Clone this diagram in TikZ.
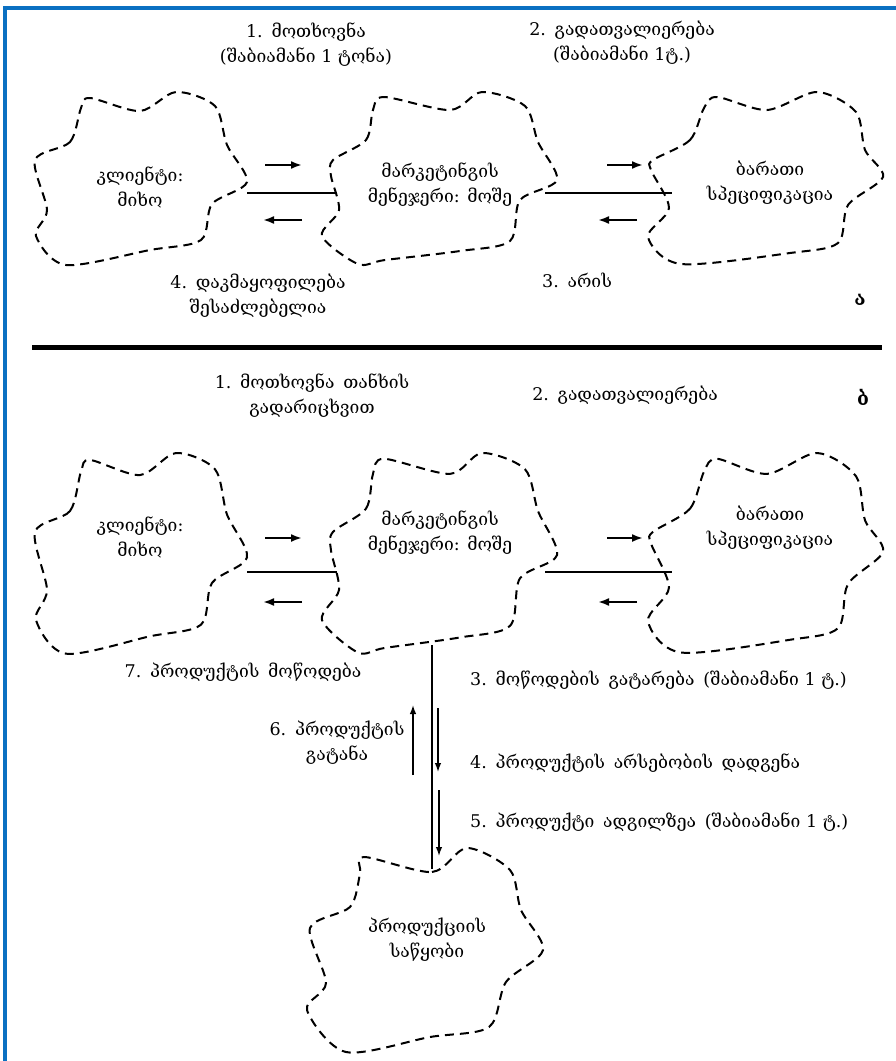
\documentclass[tikz,border=0pt]{standalone}
\usepackage{fontspec}
\setmainfont{DejaVu Serif}
\usetikzlibrary{arrows.meta}
\definecolor{frameblue}{RGB}{10,112,194}

% outlines of the dashed "cloud" regions (pixel-like units, y downwards)
\newcommand\clientshape{plot[smooth cycle, tension=0.5] coordinates {
 (35,160) (70,142) (81,108) (90,98) (140,111) (176,92) (215,106)
 (227,145) (247,182) (212,204) (201,240) (150,250) (66,265) (36,236)
 (47,210)}}
\newcommand\managershape{plot[smooth cycle, tension=0.5] coordinates {
 (333,160) (366,140) (373,110) (384,97) (450,110) (482,92) (525,106)
 (538,142) (557,180) (520,200) (510,241) (460,251) (385,260) (358,264)
 (322,236) (339,210) (331,176)}}
\newcommand\cardshape{plot[smooth cycle, tension=0.5] coordinates {
 (653,160) (690,140) (704,108) (717,97) (767,110) (817,92) (856,112)
 (865,150) (883,177) (848,205) (838,243) (790,253) (681,264) (648,237)
 (669,208) (651,170)}}
\newcommand\storeshape{plot[smooth cycle, tension=0.5] coordinates {
 (364,857) (432,872) (467,848) (510,870) (521,910) (543,950) (506,982)
 (489,1027) (430,1037) (346,1052) (307,1010) (326,983) (310,928)
 (350,907) (360,874)}}

\begin{document}
\begin{tikzpicture}[x=1pt,y=-1pt,
  cloudline/.style={draw, line width=2pt, dash pattern=on 9pt off 6pt},
  txt/.style={inner sep=0pt, align=center, font=\fontsize{17.5}{25}\selectfont},
  ltxt/.style={txt, anchor=west},
  tag/.style={inner sep=0pt, font=\fontsize{19}{22}\selectfont\bfseries},
  link/.style={line width=1.4pt},
  flow/.style={line width=2pt, -{Latex[length=11pt,width=8pt]}},
  vflow/.style={line width=1.4pt, -{Latex[length=9pt,width=6.5pt]}},
]
\useasboundingbox (0,0) rectangle (896,1061);

% frame
\draw[frameblue, line width=4pt] (5,1061) -- (5,8) -- (896,8);

% ---------------- part a ----------------
\draw[cloudline] \clientshape;
\draw[cloudline] \managershape;
\draw[cloudline] \cardshape;

\node[txt] (cliA) at (140,188) {კლიენტი:\\მიხო};
\node[txt] (mgrA) at (440,185) {მარკეტინგის\\მენეჯერი: მოშე};
\node[txt] (cardA) at (770,183) {ბარათი\\სპეციფიკაცია};

\coordinate (cliA-e) at (247,193);
\coordinate (mgrA-w) at (335,193);
\coordinate (mgrA-e) at (545,193);
\coordinate (cardA-w) at (672,193);
\draw[link] (cliA-e) -- (mgrA-w);
\draw[link] (mgrA-e) -- (cardA-w);

\draw[flow] (265,165) -- (302,165);
\draw[flow] (302,220) -- (263,220);
\draw[flow] (607,165) -- (643,165);
\draw[flow] (637,220) -- (598,220);

\node[txt] (reqA) at (306,45) {1.\enspace მოთხოვნა\\(შაბიამანი 1 ტონა)};
\node[txt] (viewA) at (622,43) {2.\enspace გადათვალიერება\\(შაბიამანი 1ტ.)};
\node[txt] (okA) at (258,296) {4.\enspace დაკმაყოფილება\\შესაძლებელია};
\node[txt] (isA) at (577,280) {3.\enspace არის};
\node[tag] (tagA) at (860,300) {ა};

% separator
\draw[line width=5pt] (32,347) -- (882,347);

% ---------------- part b ----------------
\begin{scope}[shift={(0,453)}, yscale=1.16, shift={(0,-92)}]
  \draw[cloudline] \clientshape;
  \draw[cloudline] \managershape;
  \draw[cloudline] \cardshape;
\end{scope}
\draw[cloudline] \storeshape;

\node[txt] (cliB) at (140,537) {კლიენტი:\\მიხო};
\node[txt] (mgrB) at (440,533) {მარკეტინგის\\მენეჯერი: მოშე};
\node[txt] (cardB) at (770,528) {ბარათი\\სპეციფიკაცია};
\node[txt] (store) at (427,940) {პროდუქციის\\საწყობი};

\coordinate (cliB-e) at (247,572);
\coordinate (mgrB-w) at (337,572);
\coordinate (mgrB-e) at (545,572);
\coordinate (cardB-w) at (672,572);
\coordinate (mgrB-s) at (432,645);
\coordinate (store-n) at (432,869);
\draw[link] (cliB-e) -- (mgrB-w);
\draw[link] (mgrB-e) -- (cardB-w);
\draw[link] (mgrB-s) -- (store-n);

\draw[flow] (265,538) -- (302,538);
\draw[flow] (302,602) -- (263,602);
\draw[flow] (607,538) -- (643,538);
\draw[flow] (637,602) -- (598,602);

\draw[vflow] (413,775) -- (413,705);
\draw[vflow] (438,708) -- (438,772);
\draw[vflow] (439,790) -- (439,856);

\node[txt] (reqB) at (312,396) {1.\enspace მოთხოვნა\enspace თანხის\\გადარიცხვით};
\node[txt] (viewB) at (625,395) {2.\enspace გადათვალიერება};
\node[tag] (tagB) at (863,397) {ბ};
\node[txt] (supply) at (243,672) {7.\enspace პროდუქტის\enspace მოწოდება};
\node[ltxt] (post) at (470,680) {3.\enspace მოწოდების\enspace გატარება\enspace (შაბიამანი 1 ტ.)};
\node[txt] (take) at (337,743) {6.\enspace პროდუქტის\\გატანა};
\node[ltxt] (check) at (470,763) {4.\enspace პროდუქტის\enspace არსებობის\enspace დადგენა};
\node[ltxt] (onsite) at (470,822) {5.\enspace პროდუქტი\enspace ადგილზეა\enspace (შაბიამანი 1 ტ.)};
\end{tikzpicture}
\end{document}
